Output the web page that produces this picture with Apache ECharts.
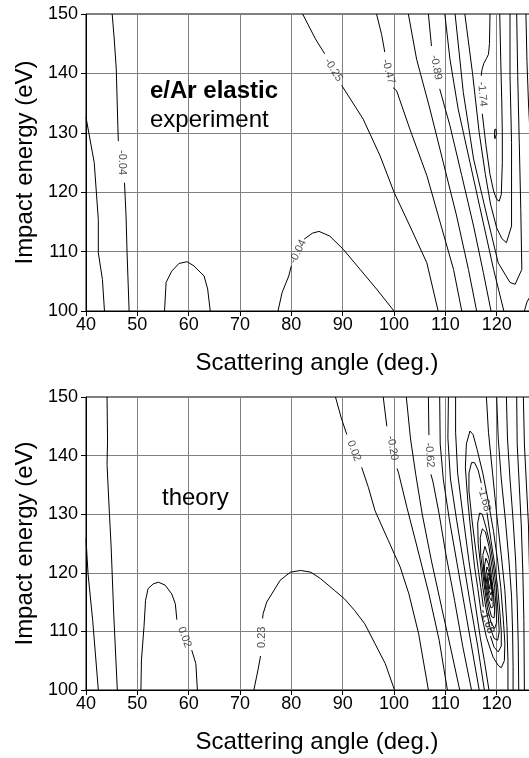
<!DOCTYPE html>
<html>
<head>
<meta charset="utf-8">
<script src="https://cdn.jsdelivr.net/npm/echarts@6/dist/echarts.min.js"></script>
<style>
  html, body { margin: 0; padding: 0; background: #fff; }
  #main { width: 529px; height: 758px; }
</style>
</head>
<body>
<div id="main"></div>
<script>
// axis ranges / ticks
const angleRange = [40, 130];
const energyRange = [100, 150];
const tickStep = 10;

// ---- experiment (top panel) contour lines, [angle, energy] ----
const expA = [[40, 132.6], [41.6, 125.0], [42.4, 115.4], [42.4, 109.8], [43.2, 105.3], [43.6, 100]];
const expB1 = [[45.1, 150], [45.5, 145.8], [45.9, 140.7], [46.2, 131.2], [46.3, 128.6]];
const expB2 = [[47.5, 121.6], [47.8, 116.0], [48.0, 109.8], [48.4, 100]];
const exp60 = [[55.3, 100], [55.6, 104.8], [56.7, 106.7], [58.1, 108.0], [59.7, 108.3], [61.0, 107.6], [63.0, 105.9], [63.7, 103.7], [64.2, 100]];
const exp85a = [[77.4, 100], [78.2, 103.1], [79.5, 105.9], [80.0, 107.6]];
const exp85b = [[82.5, 112.1], [84.1, 113.1], [85.4, 113.4], [87.5, 112.6], [90.1, 110.4], [93.4, 107.0], [96.6, 103.7], [100, 100]];
const exp25a = [[82.2, 150], [84.7, 145.8], [86.5, 143.3]];
const exp25b = [[89.8, 138.0], [94.0, 132.3], [97.3, 126.1], [100, 120], [103.1, 114.3], [106.4, 108.1], [108.6, 100]];
const exp47a = [[96.6, 150], [97.6, 146.5], [98.2, 143.6]];
const exp47b = [[99.8, 137.6], [100.5, 137.1], [103.1, 130.6], [106.4, 122.8], [109.0, 114.9], [111.6, 107.0], [113.2, 100]];
const exp68 = [[102.8, 150], [104.4, 142.4], [107.0, 134.0], [109.6, 125.0], [112.2, 116.0], [114.5, 107.0], [116.1, 100]];
const exp89a = [[106.7, 150], [107.3, 144.6]];
const exp89b = [[108.9, 137.4], [110.9, 131.2], [113.2, 122.8], [115.5, 114.3], [117.4, 106.5], [118.9, 100]];
const exp110 = [[109.9, 150], [110.9, 142.4], [112.5, 134.0], [114.8, 125.0], [117.1, 116.0], [119.4, 107.0], [121.4, 100]];
const exp131 = [[111.9, 150], [113.5, 136.8], [115.5, 125.6], [118.1, 116.0], [120.3, 108.1], [122.6, 104.8], [123.6, 104.5], [124.9, 107.0], [124.7, 117.1], [124.4, 128.4], [124.1, 139.6], [123.9, 150]];
const exp153 = [[113.8, 150], [115.3, 140], [116.6, 130], [117.8, 123], [118.8, 118], [120.0, 114], [121.0, 112.2], [121.9, 111.5], [122.9, 114.3], [122.9, 128.4], [122.6, 139.6], [122.6, 150]];
const exp174a = [[118.7, 150], [118.6, 145], [118.4, 143.2], [118.0, 142.5], [117.5, 141.7], [117.1, 140.5], [117.0, 139.6]];
const exp174b = [[117.2, 133.2], [117.9, 128], [118.7, 123], [119.4, 120.2], [120.0, 118.8], [120.5, 118.5], [120.9, 119.6], [121.1, 125], [121.1, 130], [121.0, 135], [120.8, 142], [120.6, 150]];
const expDot = [[119.65, 130.6], [119.55, 129.8], [119.65, 129.0], [119.85, 128.9], [119.95, 129.8], [119.85, 130.6], [119.65, 130.6]];
const expEdge = [[125.7, 150], [125.9, 142], [126.2, 135], [126.6, 128], [127, 120]];
const expCorner = [[125.4, 100], [125.9, 101.5], [126.6, 102.6]];

// [angle, energy, text, rotation]
const expLabels = [
  [47.0, 125.0, '-0.04', -90],
  [81.3, 110.0, '-0.04', 63],
  [88.2, 140.6, '-0.25', -58],
  [98.9, 140.3, '-0.47', -75],
  [108.2, 141.0, '-0.89', -80],
  [117.2, 136.5, '-1.74', -85]
];

// ---- theory (bottom panel) contour lines ----
const thA = [[40, 125.8], [40.4, 119.8], [41.3, 111.9], [42.4, 100]];
const thB = [[44.1, 150], [44.2, 142.5], [44.1, 138.5], [44.5, 131.2], [44.9, 124.4], [45.4, 113.0], [46.1, 100]];
const th55a = [[50.7, 100], [50.8, 105.1], [51.3, 110.8], [51.6, 115.3], [52.1, 117.3], [53.1, 118.1], [54.1, 118.4], [55.4, 117.9], [56.7, 116.4], [57.4, 114.7], [57.7, 112.0]];
const th55b = [[60.6, 106.8], [61.4, 104.5], [61.7, 100]];
const th80a = [[72.7, 100], [73.5, 103.4], [74.0, 105.8]];
const th80b = [[74.4, 112.2], [74.5, 113.0], [75.2, 115.0], [76.2, 116.4], [77.8, 118.7], [79.8, 120.1], [81.8, 120.4], [83.8, 120.1], [85.7, 119.0], [88.4, 117.0], [90.3, 115.6], [92.3, 113.6], [94.3, 111.3], [96.3, 107.9], [98.3, 104.5], [100.1, 100]];
const th02a = [[88.6, 150], [89.7, 146.5], [90.8, 143.6]];
const th02b = [[93.7, 138.0], [95.0, 134.6], [96.3, 130.6], [98.9, 125.5], [101.2, 121.0], [102.9, 116.4], [104.8, 109.6], [106.7, 100]];
const th20a = [[97.9, 150], [98.6, 145]];
const th20b = [[100.6, 137.8], [100.9, 137.0], [102.5, 131.2], [104.5, 124.4], [106.8, 116.4], [108.8, 108.5], [110.4, 100]];
const th41 = [[102.4, 150], [103.2, 143], [104.2, 137], [105.5, 130], [107.3, 122], [109.3, 114], [111.2, 106.5], [112.8, 100]];
const th62a = [[106.7, 150], [106.8, 143.5]];
const th62b = [[107.2, 136.8], [107.6, 135.5], [108.8, 130.0], [110.1, 123.2], [111.8, 115.3], [113.4, 107.4], [115.1, 100]];
const th83 = [[108.9, 150], [109.0, 142], [109.6, 136], [110.8, 129], [112.2, 122], [113.6, 115], [115.1, 107.5], [116.6, 100]];
const th104 = [[110.6, 150], [110.5, 143], [111.0, 136], [112.2, 129], [113.5, 122], [114.8, 115], [116.3, 107.5], [117.6, 100]];
const th125 = [[112.0, 150], [112.0, 144], [112.4, 137], [113.4, 130], [114.6, 122], [115.6, 116], [116.8, 109], [117.6, 105], [118.5, 100]];
const thR1 = [[118.0, 150], [118.4, 144], [119.2, 137], [120.0, 130], [120.9, 123], [121.6, 117], [122.0, 111], [122.2, 105], [122.2, 100]];
const thR2 = [[120.0, 150], [120.3, 143], [120.9, 136], [121.7, 129], [122.4, 122], [122.9, 116], [123.1, 110], [123.2, 104], [123.2, 100]];
const thR3 = [[121.9, 150], [122.1, 143], [122.6, 136], [123.2, 129], [123.7, 122], [124.0, 115], [124.2, 108], [124.3, 100]];
const thR4 = [[123.9, 150], [124.0, 142], [124.4, 135], [124.8, 128], [125.1, 120], [125.3, 112], [125.4, 100]];
const thR5 = [[125.2, 150], [125.4, 142], [125.8, 135], [126.2, 128], [126.4, 120], [126.5, 110], [126.5, 100]];
const th147 = [[114.8, 144.2], [114.1, 142], [113.9, 138], [114.4, 132], [115.1, 126], [115.7, 121], [116.3, 117.5], [117.0, 113], [118.0, 109], [119.3, 105.6], [120.3, 104.2], [120.9, 103.8], [121.5, 105], [121.6, 108], [121.3, 112], [120.8, 117.5], [120.2, 122], [119.4, 127], [118.4, 132], [117.3, 137], [116.2, 141], [115.4, 143.6], [114.8, 144.2]];
const th168a = [[118.1, 130.3], [118.9, 125.5], [119.6, 121.5], [120.2, 117.5], [120.6, 113.5], [120.9, 110], [120.9, 107.5], [120.3, 106.5], [119.5, 107.3], [118.8, 109.2]];
const th168b = [[117.4, 114.2], [116.9, 117.5], [116.5, 120], [115.9, 124], [115.2, 129], [114.6, 134], [114.6, 137], [115.1, 138.8], [115.7, 138.8], [116.4, 137.5], [117.0, 135.3]];
const th189 = [[116.7, 130.2], [116.3, 128.5], [116.4, 125], [116.9, 121], [117.3, 117.5], [117.9, 114], [118.6, 111], [119.5, 108.8], [120.2, 108.5], [120.5, 110], [120.3, 113], [119.9, 117.5], [119.4, 121], [118.8, 124.5], [118.0, 127.5], [117.2, 130], [116.7, 130.2]];
const th210 = [[117.2, 127.5], [116.8, 126], [116.9, 123], [117.3, 120], [117.7, 117], [118.2, 114], [118.9, 111.5], [119.6, 110.5], [120.0, 111.5], [119.9, 114], [119.6, 117.5], [119.1, 121], [118.5, 124.5], [117.8, 127], [117.2, 127.5]];
const th231 = [[117.7, 124.5], [117.3, 123], [117.5, 120], [117.9, 117], [118.4, 114.5], [119.0, 112.5], [119.5, 112.3], [119.6, 113.5], [119.4, 116.5], [119.0, 119.5], [118.5, 122.5], [117.7, 124.5]];
const th253 = [[117.9, 122.5], [117.6, 121], [117.9, 118], [118.4, 115.5], [118.9, 114], [119.3, 114.2], [119.3, 116], [118.9, 119], [118.4, 121.5], [117.9, 122.5]];
const th274 = [[118.1, 121], [117.9, 119.5], [118.2, 117.5], [118.6, 115.8], [119.0, 115.2], [119.2, 116.5], [118.9, 118.5], [118.5, 120.2], [118.1, 121]];
const th295 = [[118.3, 120], [118.2, 118.5], [118.5, 117], [118.9, 116.2], [119.1, 117], [118.8, 118.8], [118.3, 120]];
const th316 = [[118.5, 119.2], [118.4, 118.2], [118.7, 117.2], [118.9, 117.4], [118.8, 118.5], [118.5, 119.2]];

// [angle, energy, text, rotation, bold]
const thLabels = [
  [59.2, 109.0, '0.02', -70],
  [74.2, 109.0, '0.23', 90],
  [92.2, 140.8, '0.02', -68],
  [99.7, 141.3, '-0.20', -80],
  [106.9, 140.1, '-0.62', -85],
  [117.6, 132.6, '-1.68', -75],
  [118.1, 111.7, '-1.68', -70, true]
];

const expLines = [expA, expB1, expB2, exp60, exp85a, exp85b, exp25a, exp25b, exp47a, exp47b, exp68,
  exp89a, exp89b, exp110, exp131, exp153, exp174a, exp174b, expDot, expEdge, expCorner];
const thLines = [thA, thB, th55a, th55b, th80a, th80b, th02a, th02b, th20a, th20b, th41, th62a, th62b,
  th83, th104, th125, thR1, thR2, thR3, thR4, thR5, th147, th168a, th168b, th189, th210, th231,
  th253, th274, th295, th316];

const font = '"Liberation Sans", Arial, Helvetica, sans-serif';

function lineSeries(data, idx) {
  return {
    type: 'line',
    xAxisIndex: idx,
    yAxisIndex: idx,
    data: data,
    symbol: 'none',
    silent: true,
    z: 3,
    lineStyle: { color: '#000', width: 1 }
  };
}

function labelSeries(list, idx) {
  return {
    type: 'scatter',
    xAxisIndex: idx,
    yAxisIndex: idx,
    symbolSize: 0,
    silent: true,
    z: 5,
    data: list.map(l => ({
      value: [l[0], l[1]],
      name: l[2],
      label: { rotate: l[3], fontWeight: l[4] ? 'bold' : 'normal' }
    })),
    label: {
      show: true,
      position: [0, 0],
      align: 'center',
      verticalAlign: 'middle',
      formatter: p => p.name,
      fontSize: 11,
      color: '#222',
      fontFamily: font
    }
  };
}

function xAxisFor(idx) {
  return {
    type: 'value',
    gridIndex: idx,
    min: angleRange[0],
    max: angleRange[1],
    interval: tickStep,
    name: 'Scattering angle (deg.)',
    nameLocation: 'middle',
    nameGap: 40,
    nameTextStyle: { fontSize: 24, color: '#000', fontFamily: font },
    axisLine: { onZero: false, lineStyle: { color: '#000', width: 1 } },
    axisTick: { length: 5, lineStyle: { color: '#000' } },
    axisLabel: { fontSize: 18, color: '#000', margin: 5, fontFamily: font },
    splitLine: { show: true, lineStyle: { color: '#808080', width: 1 } }
  };
}

function yAxisFor(idx) {
  return {
    type: 'value',
    gridIndex: idx,
    min: energyRange[0],
    max: energyRange[1],
    interval: tickStep,
    name: 'Impact energy (eV)',
    nameLocation: 'middle',
    nameGap: 48,
    nameTextStyle: { fontSize: 24, color: '#000', fontFamily: font },
    axisLine: { onZero: false, lineStyle: { color: '#000', width: 1 } },
    axisTick: { length: 5, lineStyle: { color: '#000' } },
    axisLabel: { fontSize: 18, color: '#000', margin: 8, fontFamily: font },
    splitLine: { show: true, lineStyle: { color: '#808080', width: 1 } }
  };
}

const series = [];
expLines.forEach(d => series.push(lineSeries(d, 0)));
thLines.forEach(d => series.push(lineSeries(d, 1)));
series.push(labelSeries(expLabels, 0));
series.push(labelSeries(thLabels, 1));

const chart = echarts.init(document.getElementById('main'), null, { renderer: 'canvas' });
chart.setOption({
  animation: false,
  backgroundColor: '#fff',
  grid: [
    { left: 86, top: 14, width: 462, height: 297, show: true, borderColor: '#000', borderWidth: 1, outerBoundsMode: 'none', containLabel: false },
    { left: 86, top: 397, width: 462, height: 293, show: true, borderColor: '#000', borderWidth: 1, outerBoundsMode: 'none', containLabel: false }
  ],
  xAxis: [xAxisFor(0), xAxisFor(1)],
  yAxis: [yAxisFor(0), yAxisFor(1)],
  graphic: [
    { type: 'text', x: 150, y: 91, z: 10, style: { text: 'e/Ar elastic', font: 'bold 24px ' + font, fill: '#000', align: 'left', verticalAlign: 'middle' } },
    { type: 'text', x: 150, y: 120, z: 10, style: { text: 'experiment', font: '24px ' + font, fill: '#000', align: 'left', verticalAlign: 'middle' } },
    { type: 'text', x: 162, y: 498, z: 10, style: { text: 'theory', font: '24px ' + font, fill: '#000', align: 'left', verticalAlign: 'middle' } }
  ],
  series: series
});
</script>
</body>
</html>
